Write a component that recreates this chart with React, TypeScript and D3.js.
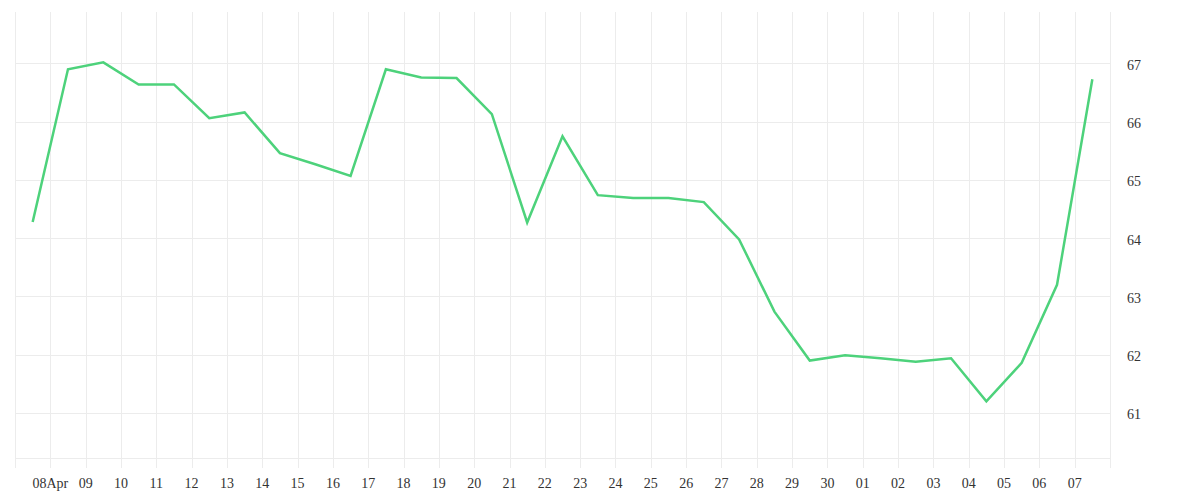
import { useEffect, useRef } from "react"
import * as d3 from "d3"

// one reading per day, taken at midday
const dates = [
  "2024-04-07", "2024-04-08", "2024-04-09", "2024-04-10", "2024-04-11", "2024-04-12",
  "2024-04-13", "2024-04-14", "2024-04-15", "2024-04-16", "2024-04-17", "2024-04-18",
  "2024-04-19", "2024-04-20", "2024-04-21", "2024-04-22", "2024-04-23", "2024-04-24",
  "2024-04-25", "2024-04-26", "2024-04-27", "2024-04-28", "2024-04-29", "2024-04-30",
  "2024-05-01", "2024-05-02", "2024-05-03", "2024-05-04", "2024-05-05", "2024-05-06",
  "2024-05-07",
]

const values = [
  64.28, 66.9, 67.02, 66.64, 66.64, 66.06, 66.16, 65.46, 65.27, 65.07, 66.9, 66.76,
  66.75, 66.13, 64.27, 65.75, 64.74, 64.69, 64.69, 64.62, 63.98, 62.74, 61.9, 61.99,
  61.94, 61.88, 61.94, 61.2, 61.86, 63.2, 66.73,
]

const yTicks = [61, 62, 63, 64, 65, 66, 67]
const xStart = "2024-04-07"
const xEnd = "2024-05-08"

export default function App() {
  const svgRef = useRef(null)

  useEffect(() => {
    if (!svgRef.current) return
    const svg = d3.select(svgRef.current)
    svg.selectAll("*").remove()

    const width = 1200
    const height = 500
    const left = 15
    const right = 1110
    const top = 12
    const bottom = 458

    const parse = d3.utcParse("%Y-%m-%d")
    const data = dates.map((d, i) => ({
      date: d3.utcHour.offset(parse(d), 12),
      value: values[i],
    }))

    const x = d3.scaleUtc().domain([parse(xStart), parse(xEnd)]).range([left, right])
    const y = d3.scaleLinear().domain([60.227, 67.884]).range([bottom, top])

    const days = d3.utcDay.range(d3.utcDay.offset(parse(xStart), 1), parse(xEnd))
    const fmtFirst = d3.utcFormat("%d%b")
    const fmtDay = d3.utcFormat("%d")

    const grid = svg.append("g").attr("stroke", "#ececec").attr("stroke-width", 1)

    // vertical grid + ticks
    grid
      .selectAll("line.v")
      .data([parse(xStart), ...days, parse(xEnd)])
      .enter()
      .append("line")
      .attr("x1", (d) => Math.round(x(d)) + 0.5)
      .attr("x2", (d) => Math.round(x(d)) + 0.5)
      .attr("y1", top)
      .attr("y2", bottom + 10)

    // horizontal grid
    grid
      .selectAll("line.h")
      .data(yTicks)
      .enter()
      .append("line")
      .attr("x1", left)
      .attr("x2", right)
      .attr("y1", (d) => Math.round(y(d)) + 0.5)
      .attr("y2", (d) => Math.round(y(d)) + 0.5)

    // baseline
    grid
      .append("line")
      .attr("x1", left)
      .attr("x2", right)
      .attr("y1", bottom + 0.5)
      .attr("y2", bottom + 0.5)

    // x labels
    svg
      .append("g")
      .selectAll("text")
      .data(days)
      .enter()
      .append("text")
      .attr("x", (d) => x(d))
      .attr("y", bottom + 30)
      .attr("text-anchor", "middle")
      .attr("font-size", "14px")
      .attr("fill", "#333")
      .text((d, i) => (i === 0 ? fmtFirst(d) : fmtDay(d)))

    // y labels on the right
    svg
      .append("g")
      .selectAll("text")
      .data(yTicks)
      .enter()
      .append("text")
      .attr("x", right + 17)
      .attr("y", (d) => y(d) + 6.5)
      .attr("font-size", "14px")
      .attr("fill", "#333")
      .text((d) => d)

    const line = d3
      .line<{ date: Date; value: number }>()
      .x((d) => x(d.date))
      .y((d) => y(d.value))

    svg
      .append("path")
      .datum(data)
      .attr("d", line)
      .attr("fill", "none")
      .attr("stroke", "#4dd27b")
      .attr("stroke-width", 2.5)
      .attr("stroke-linejoin", "miter")

    svg.attr("width", width).attr("height", height).attr("viewBox", [0, 0, width, height])
  }, [])

  return (
    <svg
      ref={svgRef}
      style={{ position: "absolute", left: 0, top: 0, background: "#fff" }}
    ></svg>
  )
}
